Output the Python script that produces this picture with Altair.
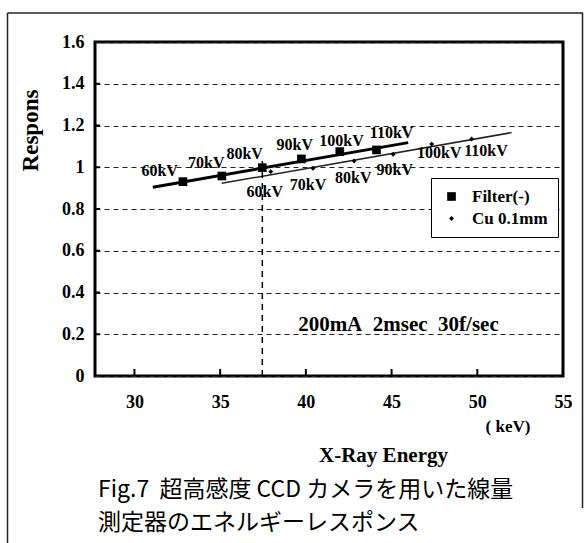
import altair as alt
import pandas as pd

# ---- data ----
kv_labels = ["60kV", "70kV", "80kV", "90kV", "100kV", "110kV"]

filter_x = [32.83, 35.10, 37.46, 39.74, 41.98, 44.12]
filter_y = [0.931, 0.958, 0.998, 1.040, 1.075, 1.083]
cu_x = [37.95, 40.42, 42.82, 45.09, 47.34, 49.67]
cu_y = [0.979, 0.995, 1.030, 1.062, 1.111, 1.135]

# trend lines (end points)
filter_fit_x = [31.07, 45.97]
filter_fit_y = [0.904, 1.118]
cu_fit_x = [35.09, 52.00]
cu_fit_y = [0.923, 1.166]

# label anchors (data units)
filter_lab_x = [31.47, 34.19, 36.43, 39.35, 42.08, 45.00]
filter_lab_y = [0.983, 1.020, 1.063, 1.107, 1.127, 1.163]
cu_lab_x = [37.60, 40.13, 42.77, 45.19, 47.78, 50.51]
cu_lab_y = [0.883, 0.915, 0.947, 0.987, 1.070, 1.077]

marker_x = 37.46
marker_top = 1.035

x_ticks = [30, 35, 40, 45, 50, 55]
y_ticks = [0, 0.2, 0.4, 0.6, 0.8, 1.0, 1.2, 1.4, 1.6]

series_names = ["Filter(-)", "Cu 0.1mm"]
condition_text = "200mA\u00a0\u00a02msec\u00a0\u00a030f/sec"
condition_x, condition_y = 45.4, 0.244
caption1 = "Fig.7\u00a0\u00a0超高感度 CCD カメラを用いた線量"
caption2 = "測定器のエネルギーレスポンス"

# ---- layout ----
W, H = 468, 334
SERIF = "Liberation Serif"

xs = alt.Scale(domain=[27.7, 55], nice=False, zero=False)
ys = alt.Scale(domain=[0, 1.6], nice=False)


def X(field="energy"):
    return alt.X(f"{field}:Q", scale=xs, axis=alt.Axis(
        values=x_ticks, title="X-Ray Energy", grid=False, ticks=False, domain=False,
        labelFlush=False, labelOverlap=False, labelPadding=17,
        labelFont=SERIF, labelFontSize=18, labelFontWeight="bold", labelColor="black",
        titleFont=SERIF, titleFontSize=21, titleFontWeight="bold", titleColor="black",
        titleX=288, titleY=79, titleAlign="center", titleBaseline="middle"))


def Y(field="resp"):
    return alt.Y(f"{field}:Q", scale=ys, axis=alt.Axis(
        values=y_ticks, format=".1~f", title="Respons", grid=True,
        gridDash=[5, 4], gridColor="#222222", gridWidth=1, ticks=False, domain=False,
        labelPadding=11, labelFont=SERIF, labelFontSize=18, labelFontWeight="bold",
        labelColor="black",
        titleFont=SERIF, titleFontSize=23, titleFontWeight="bold", titleColor="black",
        titleAngle=270, titleX=-65, titleY=88, titleAlign="center", titleBaseline="middle"))


pts = pd.DataFrame({
    "energy": filter_x + cu_x,
    "resp": filter_y + cu_y,
    "series": [series_names[0]] * len(filter_x) + [series_names[1]] * len(cu_x),
})

leg = alt.Legend(title=None, orient="none", legendX=336, legendY=136,
                 fillColor="white", strokeColor="black", padding=10,
                 rowPadding=4, symbolOffset=2, labelOffset=12,
                 labelFont=SERIF, labelFontSize=17, labelFontWeight="bold",
                 labelColor="black", symbolStrokeWidth=0, symbolFillColor="black")

points = alt.Chart(pts).mark_point(filled=True, opacity=1, color="black", strokeWidth=0).encode(
    x=X(), y=Y(),
    shape=alt.Shape("series:N", scale=alt.Scale(domain=series_names, range=["square", "diamond"]), legend=leg),
    size=alt.Size("series:N", scale=alt.Scale(domain=series_names, range=[75, 24]), legend=leg),
)

fit_f = alt.Chart(pd.DataFrame({"energy": filter_fit_x, "resp": filter_fit_y})).mark_line(
    color="black", strokeWidth=3).encode(x=X(), y=Y())
fit_c = alt.Chart(pd.DataFrame({"energy": cu_fit_x, "resp": cu_fit_y})).mark_line(
    color="#222222", strokeWidth=1.5).encode(x=X(), y=Y())

marker = alt.Chart(pd.DataFrame({"energy": [marker_x], "resp": [0.0], "resp2": [marker_top]})).mark_rule(
    color="black", strokeWidth=1.5, strokeDash=[6, 5]).encode(x=X(), y=Y(), y2="resp2:Q")

labels = alt.Chart(pd.DataFrame({
    "energy": filter_lab_x + cu_lab_x,
    "resp": filter_lab_y + cu_lab_y,
    "lab": kv_labels + kv_labels,
})).mark_text(font=SERIF, fontSize=16, fontWeight="bold", color="black",
              align="center", baseline="middle").encode(x=X(), y=Y(), text="lab:N")

cond = alt.Chart(pd.DataFrame({"energy": [condition_x], "resp": [condition_y], "t": [condition_text]})).mark_text(
    font=SERIF, fontSize=21, fontWeight="bold", color="black", align="center", baseline="middle"
).encode(x=X(), y=Y(), text="t:N")

xt = alt.Chart(pd.DataFrame({"energy": x_ticks[:-1]})).mark_rule(color="black", strokeWidth=2).encode(
    x=X(), y=alt.value(H), y2=alt.value(H - 7))
yt = alt.Chart(pd.DataFrame({"resp": y_ticks[1:-1]})).mark_rule(color="black", strokeWidth=2).encode(
    y=Y(), x=alt.value(0), x2=alt.value(5))

one = alt.Data(values=[{}])
unit = alt.Chart(one)
kev = unit.mark_text(font=SERIF, fontSize=17, fontWeight="bold", color="black",
                     align="center", baseline="middle").encode(
    x=alt.value(413), y=alt.value(385), text=alt.value("( keV)"))
cap1 = unit.mark_text(font="Noto Sans CJK JP", fontSize=23, color="black",
                      align="left", baseline="middle").encode(
    x=alt.value(3), y=alt.value(448), text=alt.value(caption1))
cap2 = unit.mark_text(font="Noto Sans CJK JP", fontSize=23, color="black",
                      align="left", baseline="middle").encode(
    x=alt.value(3), y=alt.value(481), text=alt.value(caption2))

frame_top = unit.mark_rule(color="#222222", strokeWidth=1.5).encode(
    x=alt.value(-87.5), x2=alt.value(488), y=alt.value(-29))
frame_left = unit.mark_rule(color="#222222", strokeWidth=1.5).encode(
    x=alt.value(-87.5), y=alt.value(-29), y2=alt.value(501))
frame_right = unit.mark_rule(color="#222222", strokeWidth=1.5).encode(
    x=alt.value(487.5), y=alt.value(-29), y2=alt.value(466))

chart = alt.layer(
    fit_c, fit_f, marker, xt, yt, points, labels, cond,
    kev, cap1, cap2, frame_top, frame_left, frame_right,
).properties(
    width=W, height=H,
    autosize=alt.AutoSizeParams(type="none"),
    padding={"left": 95, "top": 42, "right": 21, "bottom": 167},
    background="white",
).configure_view(stroke="black", strokeWidth=3)

chart.save("out.html", embed_options={"renderer": "svg", "actions": False})
